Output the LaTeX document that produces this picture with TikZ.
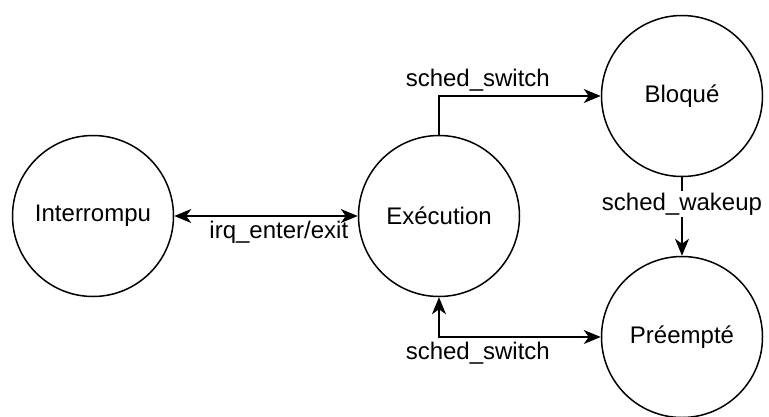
\documentclass[tikz,border=0pt]{standalone}
\usepackage{fontspec}
\setmainfont{Liberation Sans}
\usepackage{tikz}
\usetikzlibrary{arrows.meta, positioning}

\begin{document}
\begin{tikzpicture}[x=1pt, y=-1pt, line width=1.5pt,
		>={Stealth[length=17pt, width=14pt, inset=5pt]},
		state/.style={draw, circle, minimum size=161pt, inner sep=0pt},
		font=\fontsize{24}{28}\selectfont]
	\useasboundingbox (0,0) rectangle (769,416);
	% states
	\node[state] (intr) at (93,216) {Interrompu};
	\node[state] (exec) at (439,216) {Exécution};
	\node[state] (bloq) at (682,96) {Bloqué};
	\node[state] (pree) at (682,337) {Préempté};
	% transitions
	\draw[<->] (intr) -- (exec) node[pos=0.57, below=1pt] {irq\_enter/exit};
	\draw[->] (exec.north) |- (bloq.west) node[pos=0.62, above=1pt] {sched\_switch};
	\draw[->] (bloq) -- (pree) node[pos=0.34, fill=white, inner sep=2pt] {sched\_wakeup};
	\draw[<->] (exec.south) |- (pree.west) node[pos=0.62, below=1pt] {sched\_switch};
\end{tikzpicture}
\end{document}
